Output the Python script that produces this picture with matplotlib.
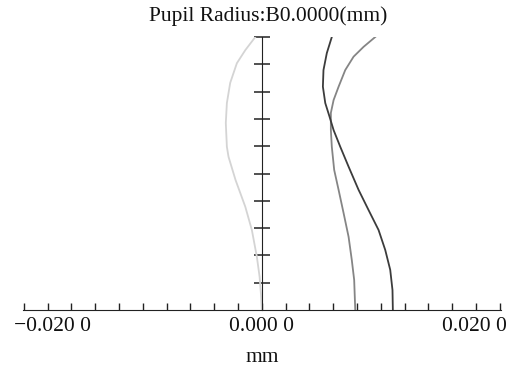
import numpy as np
import matplotlib
matplotlib.use("Agg")
import matplotlib.pyplot as plt
import matplotlib.transforms as mtransforms

plt.rcParams['font.family'] = ['Liberation Serif', 'DejaVu Serif']

# relative field height (0..1) and focal shift in mm
fy_dark = [1.0, 0.941, 0.879, 0.818, 0.758, 0.708, 0.659, 0.598, 0.525, 0.440, 0.366, 0.293, 0.220, 0.147, 0.073, 0.0]
fx_dark = [0.00588, 0.00546, 0.00518, 0.00513, 0.00533, 0.00569, 0.00603, 0.00659, 0.00729, 0.00813,
           0.00897, 0.00981, 0.01037, 0.01079, 0.01098, 0.01101]

fy_mid = [1.0, 0.964, 0.928, 0.879, 0.818, 0.769, 0.722, 0.659, 0.598, 0.513, 0.440, 0.355, 0.268, 0.183, 0.110, 0.0]
fx_mid = [0.00953, 0.00855, 0.00771, 0.00701, 0.00645, 0.00603, 0.00580, 0.00580, 0.00588, 0.00608,
          0.00645, 0.00687, 0.00729, 0.00756, 0.00776, 0.00785]

fy_light = [1.0, 0.952, 0.904, 0.832, 0.758, 0.685, 0.598, 0.561, 0.476, 0.378, 0.293, 0.195, 0.122, 0.055, 0.0]
fx_light = [-0.00055, -0.00139, -0.00210, -0.00266, -0.00294, -0.00303, -0.00294, -0.00280, -0.00221,
            -0.00139, -0.00084, -0.00042, -0.00019, -0.00007, 0.0]

xticks = [-0.02, 0.0, 0.02]
xticklabels = ['\u22120.020 0', '0.000 0', '0.020 0']

fig = plt.figure(figsize=(5.19, 3.70), dpi=100)
ax = fig.add_axes([22.7 / 519, 60 / 370, (501 - 22.7) / 519, 273 / 370])

ax.plot(fx_light, fy_light, color='#d4d4d4', lw=1.3)
ax.plot(fx_mid, fy_mid, color='#858585', lw=1.3)
ax.plot(fx_dark, fy_dark, color='#3c3c3c', lw=1.3)

ax.set_xlim(-0.0201, 0.0201)
ax.set_ylim(0, 1.0)

for s in ['top', 'right']:
    ax.spines[s].set_visible(False)
ax.spines['left'].set_position(('data', 0))
ax.spines['left'].set_color('#222222')
ax.spines['bottom'].set_color('#222222')

ax.set_yticks(np.arange(0.1, 1.01, 0.1))
ax.tick_params(axis='y', direction='inout', length=12, width=1.1, colors='#222222', labelleft=False)

ax.set_xticks(xticks)
ax.set_xticklabels(xticklabels, fontsize=15.5)
ax.set_xticks(np.arange(-0.02, 0.0201, 0.002), minor=True)
ax.tick_params(axis='x', which='both', direction='in', length=5, width=1.0, colors='#222222', pad=5)
ax.tick_params(axis='x', labelcolor='#111111')

labs = ax.get_xticklabels()
labs[0].set_ha('left')
labs[0].set_transform(labs[0].get_transform() + mtransforms.ScaledTranslation(-10 / 100, 0, fig.dpi_scale_trans))
labs[2].set_ha('right')
labs[2].set_transform(labs[2].get_transform() + mtransforms.ScaledTranslation(7 / 100, 0, fig.dpi_scale_trans))

ax.set_xlabel('mm', fontsize=15.5, labelpad=9, color='#111111')
fig.text(268 / 519, 1 - 16 / 370, 'Pupil Radius:B0.0000(mm)', ha='center', va='center', fontsize=15.5, color='#111111')

fig.savefig('out.png', dpi=100)
